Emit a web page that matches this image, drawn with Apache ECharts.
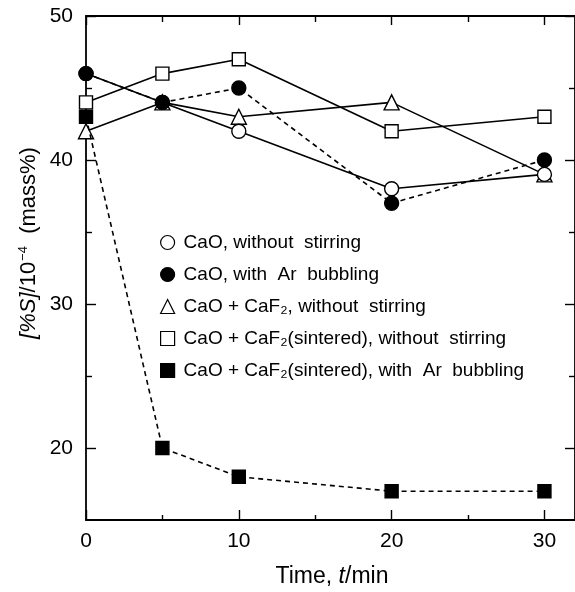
<!DOCTYPE html>
<html>
<head>
<meta charset="utf-8">
<script src="https://cdn.jsdelivr.net/npm/echarts@6/dist/echarts.min.js"></script>
<style>
  html, body { margin: 0; padding: 0; background: #fff; }
  #main { width: 575px; height: 592px; }
</style>
</head>
<body>
<div id="main"></div>
<script>
// data
var times = [0, 5, 10, 20, 30];
var caoStill = [46, 44, 42, 38, 39];        // open circle
var caoAr = [46, 44, 45, 37, 40];           // filled circle
var caf2Still = [42, 44, 43, 44, 39];       // open triangle
var sinteredStill = [44, 46, 47, 42, 43];   // open square
var sinteredAr = [43, 20, 18, 17, 17];      // filled square

var xMajor = [0, 10, 20, 30];
var xMinor = [5, 15, 25];
var yMajor = [20, 30, 40, 50];
var yMinor = [25, 35, 45];

var names = [
  'CaO, without  stirring',
  'CaO, with  Ar  bubbling',
  'CaO + CaF₂, without  stirring',
  'CaO + CaF₂(sintered), without  stirring',
  'CaO + CaF₂(sintered), with  Ar  bubbling'
];

var FONT = '"Liberation Sans", Arial, Helvetica, sans-serif';

function pts(vals) {
  return times.map(function (t, i) { return [t, vals[i]]; });
}

var myChart = echarts.init(document.getElementById('main'));

function xAxisDef(pos, ticks, len, labels, line) {
  return {
    type: 'value', position: pos, min: 0, max: 32,
    axisLine: { show: line, onZero: false, lineStyle: { color: '#000', width: 1.8 } },
    axisTick: { show: true, inside: true, length: len, customValues: ticks,
      lineStyle: { color: '#000', width: 1.4 } },
    axisLabel: { show: labels, customValues: xMajor, margin: 11, color: '#000',
      fontSize: 21, fontFamily: FONT },
    splitLine: { show: false }
  };
}
function yAxisDef(pos, ticks, len, labels, line) {
  return {
    type: 'value', position: pos, min: 15, max: 50,
    axisLine: { show: line, onZero: false, lineStyle: { color: '#000', width: 1.8 } },
    axisTick: { show: true, inside: true, length: len, customValues: ticks,
      lineStyle: { color: '#000', width: 1.4 } },
    axisLabel: { show: labels, customValues: yMajor, margin: 13, color: '#000',
      fontSize: 21, fontFamily: FONT },
    splitLine: { show: false }
  };
}

function lineSeries(name, vals, symbol, size, filled, dashed, z) {
  return {
    name: name, type: 'line', data: pts(vals),
    symbol: symbol, symbolSize: size, z: z,
    lineStyle: { color: '#000', width: 1.6, type: dashed ? [5, 4] : 'solid' },
    itemStyle: { color: filled ? '#000' : '#fff', borderColor: '#000', borderWidth: 1.4 },
    emphasis: { disabled: true }
  };
}

function legendItem(name, icon, filled) {
  return { name: name, icon: icon,
    itemStyle: { color: filled ? '#000' : '#fff', borderColor: '#000', borderWidth: 1.2 } };
}

myChart.setOption({
  animation: false,
  grid: { left: 86, top: 16, width: 491, height: 504 },
  xAxis: [
    xAxisDef('bottom', xMajor, 10, true, true),
    xAxisDef('bottom', xMinor, 5, false, false),
    xAxisDef('top', xMajor, 9, false, true),
    xAxisDef('top', xMinor, 6, false, false)
  ],
  yAxis: [
    yAxisDef('left', yMajor, 10, true, true),
    yAxisDef('left', yMinor, 6, false, false),
    yAxisDef('right', yMajor, 10, false, true),
    yAxisDef('right', yMinor, 6, false, false)
  ],
  legend: {
    orient: 'vertical', left: 155, top: 228,
    itemWidth: 14, itemHeight: 14, itemGap: 13,
    textStyle: { fontSize: 19, lineHeight: 19, color: '#000', fontFamily: FONT, padding: [0, 0, 0, 4] },
    data: [
      legendItem(names[0], 'circle', false),
      legendItem(names[1], 'circle', true),
      legendItem(names[2], 'triangle', false),
      legendItem(names[3], 'rect', false),
      legendItem(names[4], 'rect', true)
    ]
  },
  series: [
    lineSeries(names[0], caoStill, 'circle', 14, false, false, 3),
    lineSeries(names[1], caoAr, 'circle', 14, true, true, 4),
    lineSeries(names[2], caf2Still, 'triangle', 15, false, false, 2),
    lineSeries(names[3], sinteredStill, 'rect', 13, false, false, 2),
    lineSeries(names[4], sinteredAr, 'rect', 13, true, true, 5)
  ],
  graphic: [
    {
      type: 'text', x: 332, y: 577,
      style: {
        text: '{n|Time, }{i|t}{n|/min}',
        align: 'center', verticalAlign: 'middle',
        rich: {
          n: { fontSize: 23, fontFamily: FONT, fill: '#000' },
          i: { fontSize: 23, fontFamily: FONT, fontStyle: 'italic', fill: '#000' }
        }
      }
    },
    {
      type: 'text', x: 29, y: 243, rotation: Math.PI / 2,
      style: {
        text: '{i|[%S]}{n|/10}{s|−4}{n|  (mass%)}',
        align: 'center', verticalAlign: 'middle',
        rich: {
          n: { fontSize: 22, fontFamily: FONT, fill: '#000' },
          i: { fontSize: 22, fontFamily: FONT, fontStyle: 'italic', fill: '#000' },
          s: { fontSize: 13, fontFamily: FONT, fill: '#000', verticalAlign: 'top', padding: [0, 0, 11, 1] }
        }
      }
    }
  ]
});
</script>
</body>
</html>
